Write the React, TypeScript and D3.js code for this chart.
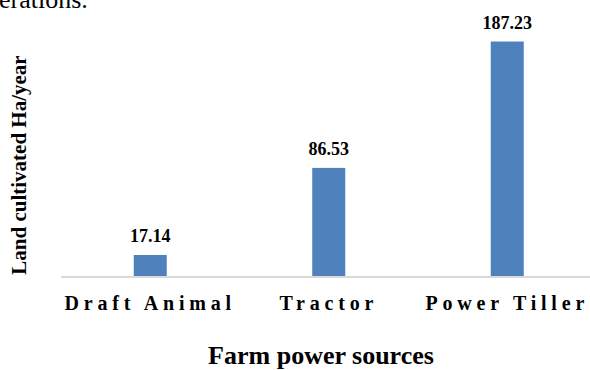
import React from "react";
import * as d3 from "d3";

const categories = ["Draft Animal", "Tractor", "Power Tiller"];
const values = [17.14, 86.53, 187.23];
const valueLabels = ["17.14", "86.53", "187.23"];
const xTitle = "Farm power sources";
const yTitle = "Land cultivated Ha/year";
const topFragment = "erations.";

const W = 590;
const H = 370;
const FONT = "'Liberation Serif', 'Times New Roman', serif";

export default function App() {
  const x = d3
    .scaleBand<string>()
    .domain(categories)
    .range([61, 596.5])
    .paddingInner(0.815)
    .paddingOuter(0.4075);
  const y = d3.scaleLinear().domain([0, 200]).range([276.5, 25.5]);

  return (
    <svg
      width={W}
      height={H}
      style={{ position: "absolute", left: 0, top: 0, background: "#fff" }}
      fontFamily={FONT}
    >
      <text x={-1} y={8} fontSize={26} fill="#000">
        {topFragment}
      </text>
      {categories.map((c, i) => (
        <rect
          key={c}
          x={x(c)}
          y={y(values[i])}
          width={x.bandwidth()}
          height={y(0) - y(values[i])}
          fill="#4f81bd"
        />
      ))}
      <line x1={61} x2={W} y1={y(0) + 0.5} y2={y(0) + 0.5} stroke="#d9d9d9" strokeWidth={2} />
      {categories.map((c, i) => (
        <text
          key={"v" + c}
          x={(x(c) as number) + x.bandwidth() / 2}
          y={y(values[i]) - 13}
          textAnchor="middle"
          fontSize={18}
          fontWeight="bold"
          fill="#000"
        >
          {valueLabels[i]}
        </text>
      ))}
      {categories.map((c) => (
        <text
          key={"c" + c}
          x={(x(c) as number) + x.bandwidth() / 2}
          y={310}
          textAnchor="middle"
          fontSize={20}
          fontWeight="bold"
          letterSpacing={4.8}
          fill="#000"
        >
          {c}
        </text>
      ))}
      <text x={321} y={364} textAnchor="middle" fontSize={26} fontWeight="bold" fill="#000">
        {xTitle}
      </text>
      <text
        transform={`translate(25.5,165) rotate(-90)`}
        textAnchor="middle"
        fontSize={21}
        fontWeight="bold"
        fill="#000"
      >
        {yTitle}
      </text>
    </svg>
  );
}
